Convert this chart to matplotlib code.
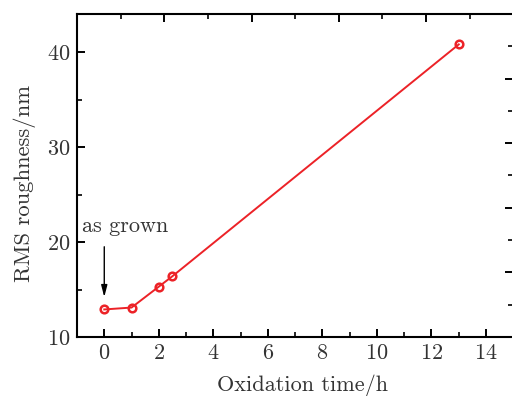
import numpy as np
import matplotlib
matplotlib.use('Agg')
import matplotlib.pyplot as plt
from matplotlib.ticker import MultipleLocator

# Data
time_h = [0, 1, 2, 2.5, 13]
rms_nm = [12.9, 13.1, 15.3, 16.4, 40.8]

plt.rcParams['font.family'] = 'serif'
plt.rcParams['font.serif'] = ['cmr10', 'DejaVu Serif']
plt.rcParams['mathtext.fontset'] = 'cm'
plt.rcParams['axes.formatter.use_mathtext'] = True

text_col = '#333333'
red = '#ec2227'

fig = plt.figure(figsize=(5.12, 3.96), dpi=100)
pos = [77 / 512, 1 - 337 / 396, (513.3 - 77) / 512, (337 - 14) / 396]
ax = fig.add_axes(pos)

ax.plot(time_h, rms_nm, color=red, lw=1.4, marker='o', ms=5.5,
        mfc='none', mec=red, mew=1.8)

ax.set_xlim(-1, 15)
ax.set_ylim(10, 44)
ax.xaxis.set_major_locator(MultipleLocator(2))
ax.xaxis.set_minor_locator(MultipleLocator(1))
ax.yaxis.set_major_locator(MultipleLocator(10))
ax.yaxis.set_minor_locator(MultipleLocator(5))
ax.tick_params(which='major', direction='in', length=6, width=1.4,
               labelsize=16, labelcolor=text_col, pad=5)
ax.tick_params(which='minor', direction='in', length=3.5, width=1.2)
for s in ax.spines.values():
    s.set_linewidth(1.5)

ax.set_xlabel('Oxidation time/h', fontsize=16, color=text_col, labelpad=8)
ax.set_ylabel('RMS roughness/nm', fontsize=16.3, color=text_col, labelpad=8)
ax.xaxis.label.set_x(0.516)
ax.yaxis.label.set_y(0.475)

# "as grown" arrow
ax.annotate('', xy=(0, 14.2), xytext=(0, 19.5),
            arrowprops=dict(arrowstyle='-|>,head_width=0.18,head_length=0.7',
                            color='black', lw=1.0,
                            mutation_scale=10, shrinkA=0, shrinkB=0))
ax.text(-0.8, 21.0, 'as grown', fontsize=16, color=text_col)

# top/right axes carry their own tick scale
ax2 = fig.add_axes(pos, frameon=False)
ax2.set_xlim(0, 10)
ax2.set_ylim(0, 10)
ax2.patch.set_visible(False)
ax2.xaxis.set_major_locator(MultipleLocator(2))
ax2.xaxis.set_minor_locator(MultipleLocator(1))
ax2.yaxis.set_major_locator(MultipleLocator(2))
ax2.yaxis.set_minor_locator(MultipleLocator(1))
ax2.tick_params(which='both', direction='in', top=True, right=True,
                bottom=False, left=False, labelbottom=False, labelleft=False)
ax2.tick_params(which='major', length=6, width=1.4)
ax2.tick_params(which='minor', length=3.5, width=1.2)

plt.savefig('out.png', dpi=100)
